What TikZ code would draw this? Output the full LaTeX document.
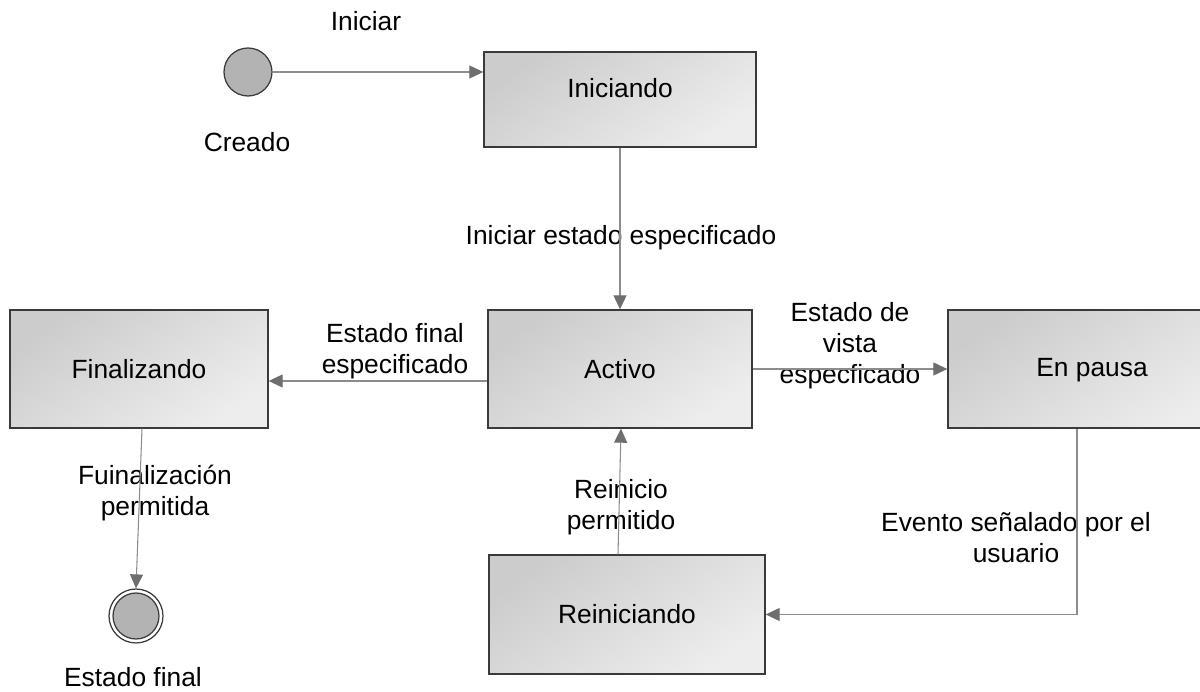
\documentclass[tikz,border=0pt]{standalone}
\usepackage{fontspec}
\setmainfont{Liberation Sans}
\usetikzlibrary{positioning,arrows.meta,calc}
\definecolor{lineagris}{HTML}{8C8C8C}
\definecolor{puntagris}{HTML}{6E6E6E}
\definecolor{bordegris}{HTML}{3A3A3A}
\definecolor{circgris}{HTML}{B3B3B3}

\begin{document}
\begin{tikzpicture}[x=0.02cm,y=-0.02cm]
\tikzset{
    estado/.style={rectangle, draw=bordegris, line width=0.8pt, top color=black!20, bottom color=black!7, shading angle=35, text centered, font=\fontsize{15}{17.6}\selectfont, inner sep=0pt},
    inicio/.style={circle, draw=bordegris, line width=0.7pt, fill=circgris, minimum size=0.96cm, inner sep=0pt},
    final/.style={circle, draw=bordegris, line width=0.7pt, fill=white, minimum size=1.08cm, inner sep=0pt},
    etiqueta/.style={align=center, font=\fontsize{15}{17.6}\selectfont, inner sep=0pt},
    transicion/.style={draw=lineagris, line width=0.6pt, -{Triangle[length=0.28cm,width=0.26cm,color=puntagris]}}
}
\useasboundingbox (0,0) rectangle (1200,692);
\clip (0,0) rectangle (1200,692);

\node[estado, minimum width=5.44cm, minimum height=1.9cm, text depth=0.48cm] (iniciando) at (620,99.5) {Iniciando};
\node[estado, minimum width=5.28cm, minimum height=2.36cm] (activo) at (620,369) {Activo};
\node[estado, minimum width=5.16cm, minimum height=2.36cm] (finalizando) at (139,369) {Finalizando};
\node[estado, minimum width=5.76cm, minimum height=2.36cm, text height=0.4cm, text depth=0.1cm] (enpausa) at (1092,369) {En pausa};
\node[estado, minimum width=5.52cm, minimum height=2.38cm] (reiniciando) at (627,614.5) {Reiniciando};

\node[inicio] (creado) at (248,72) {};
\node[final] (fin) at (136,616) {};
\filldraw[draw=bordegris, fill=circgris, line width=0.7pt] (fin.center) circle (0.46cm);

\node[etiqueta] (lbliniciar) at (366,21) {Iniciar};
\node[etiqueta] (lblcreado) at (247,142) {Creado};
\node[etiqueta] (lblespecificado) at (621,238) {Iniciar estado especificado};
\node[etiqueta] (lblfinal) at (395,351) {Estado final\\especificado};
\node[etiqueta] (lblvista) at (850,346) {Estado de\\vista\\especficado};
\node[etiqueta] (lblfuinal) at (155,493) {Fuinalización\\permitida};
\node[etiqueta] (lblreinicio) at (621,507) {Reinicio\\permitido};
\node[etiqueta] (lblevento) at (1016,538) {Evento señalado por el\\usuario};
\node[etiqueta] (lblestadofinal) at (133,677) {Estado final};

\draw[transicion] (creado.east) -- (creado.east -| iniciando.west);
\draw[transicion] (iniciando.south) -- (activo.north);
\draw[transicion] ($(activo.west)+(0,12)$) -- ($(finalizando.east)+(0,12)$);
\draw[transicion] (activo.east) -- (enpausa.west);
\draw[transicion] ($(finalizando.south)+(3,0)$) -- (fin.north);
\draw[transicion] ($(enpausa.south)+(-15,0)$) |- (reiniciando.east);
\draw[transicion] ($(reiniciando.north)+(-9,0)$) -- ($(activo.south)+(1,0)$);
\end{tikzpicture}
\end{document}
